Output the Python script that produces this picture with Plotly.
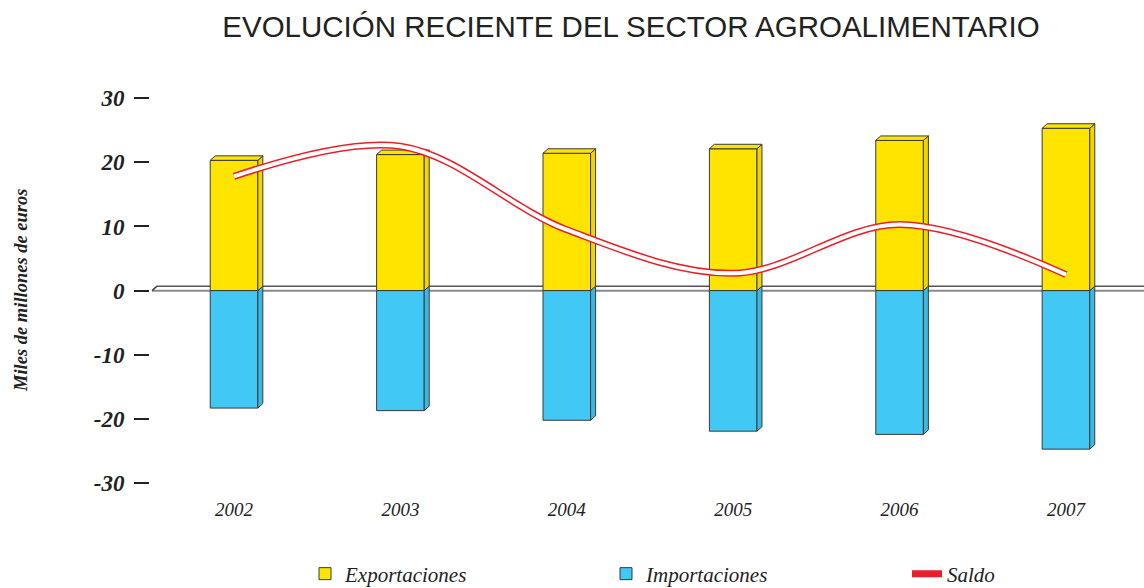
import plotly.graph_objects as go

# ---- data ----
years = [2002, 2003, 2004, 2005, 2006, 2007]
exportaciones = [20.3, 21.2, 21.4, 22.1, 23.4, 25.3]
importaciones = [-18.3, -18.7, -20.2, -21.9, -22.4, -24.7]
saldo = [17.8, 22.5, 9.5, 2.7, 10.3, 2.5]
y_ticks = [30, 20, 10, 0, -10, -20, -30]
y_tick_labels = ["30", "20", "10", "0", "-10", "-20", "-30"]
year_labels = ["2002", "2003", "2004", "2005", "2006", "2007"]

# ---- layout constants ----
W, H = 1144, 588
ML, MR, MT, MB = 150, 0, 66, 92
XR = [2001.495, 2007.469]
YR = [-32, 35]
PW = W - ML - MR
PH = H - MT - MB
PPX = PW / (XR[1] - XR[0])
PPY = PH / (YR[1] - YR[0])
BW = 0.286
DX = 5 / PPX
DY = 4.5 / PPY

YEL, YEL_SIDE = "#FFE400", "#F2D500"
BLU, BLU_SIDE = "#42C8F4", "#3AB8E2"
EDGE = "#3a3a3a"
SERIF = "Liberation Serif"

fig = go.Figure()

fig.add_trace(go.Bar(x=years, y=exportaciones, width=BW, name="Exportaciones",
                     marker=dict(color=YEL, line=dict(color=EDGE, width=1))))
fig.add_trace(go.Bar(x=years, y=importaciones, width=BW, name="Importaciones",
                     marker=dict(color=BLU, line=dict(color=EDGE, width=1))))


def poly(xs, ys, color):
    fig.add_trace(go.Scatter(x=xs, y=ys, mode="lines", fill="toself", fillcolor=color,
                             line=dict(color=EDGE, width=1), showlegend=False,
                             hoverinfo="skip"))


for yr, v, m in zip(years, exportaciones, importaciones):
    xl, xr = yr - BW / 2, yr + BW / 2
    poly([xr, xr + DX, xr + DX, xr, xr], [m, m + DY, DY, 0, m], BLU_SIDE)
    poly([xr, xr + DX, xr + DX, xr, xr], [0, DY, v + DY, v, 0], YEL_SIDE)
    poly([xl, xl + DX, xr + DX, xr, xl], [v, v + DY, v + DY, v, v], YEL)

fig.add_trace(go.Scatter(x=years, y=saldo, mode="lines", name="Saldo",
                         line=dict(color="#E8202A", width=7, shape="spline", smoothing=1.0),
                         hoverinfo="skip"))
fig.add_trace(go.Scatter(x=years, y=saldo, mode="lines", showlegend=False,
                         line=dict(color="white", width=4, shape="spline", smoothing=1.0)))

# zero "floor" lines
x_start = XR[0] + 2 / PPX
x_start2 = XR[0] + 7 / PPX
fig.add_shape(type="line", xref="x", yref="y", x0=x_start, x1=XR[1], y0=0, y1=0,
              line=dict(color="#8a8a8a", width=2), layer="below")
fig.add_shape(type="line", xref="x", yref="y", x0=x_start2, x1=XR[1], y0=DY, y1=DY,
              line=dict(color="#555555", width=1.5), layer="below")
fig.add_shape(type="line", xref="x", yref="y", x0=x_start, x1=x_start2, y0=0, y1=DY,
              line=dict(color="#444444", width=1.5), layer="below")

fig.add_annotation(text="Miles de millones de euros", xref="paper", yref="paper",
                   x=(21 - ML) / PW, y=(H - MB - 291) / PH, xanchor="center", yanchor="middle",
                   textangle=-90, showarrow=False,
                   font=dict(family=SERIF, size=18.5, style="italic", weight="bold", color="#222"))

fig.update_layout(
    width=W, height=H,
    margin=dict(l=ML, r=MR, t=MT, b=MB, autoexpand=False),
    plot_bgcolor="white", paper_bgcolor="white",
    barmode="overlay",
    title=dict(text="EVOLUCIÓN RECIENTE DEL SECTOR AGROALIMENTARIO",
               x=(631 - ML) / PW, xanchor="center", y=1 - 27 / H, yanchor="middle",
               xref="paper", yref="container",
               font=dict(family="Liberation Sans", size=29.5, color="#222")),
    xaxis=dict(range=XR, tickvals=years, ticktext=year_labels, showgrid=False,
               zeroline=False, showline=False, ticks="",
               tickfont=dict(family=SERIF, size=19, style="italic", color="#222")),
    yaxis=dict(range=YR, tickvals=y_ticks, ticktext=y_tick_labels, showgrid=False,
               zeroline=False, showline=False,
               ticks="outside", ticklen=15, tickwidth=1.5, tickcolor="#222",
               ticklabelstandoff=5,
               tickfont=dict(family=SERIF, size=23, style="italic", weight="bold", color="#222")),
    legend=dict(orientation="h", x=(305 - ML) / PW, y=-78 / PH, yanchor="middle", xanchor="left",
                entrywidth=256, entrywidthmode="pixels",
                font=dict(family=SERIF, size=21, style="italic", color="#222")),
    showlegend=True,
)

fig.write_html("out.html", config={"displayModeBar": False},
               post_script="document.body.style.margin='0';")
